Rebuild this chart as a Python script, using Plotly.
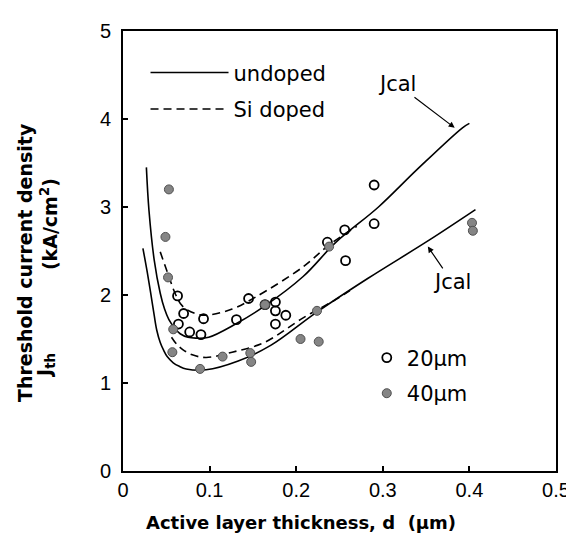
import plotly.graph_objects as go

# ---- data ----
undoped20_d = [0.027, 0.030, 0.036, 0.043, 0.048, 0.053, 0.060, 0.066, 0.075, 0.084, 0.099, 0.130, 0.163, 0.208, 0.246, 0.295, 0.340, 0.392, 0.400]
undoped20_J = [3.45, 2.96, 2.40, 2.02, 1.84, 1.72, 1.62, 1.56, 1.52, 1.51, 1.52, 1.67, 1.87, 2.21, 2.60, 3.00, 3.43, 3.90, 3.95]

sidoped20_d = [0.043, 0.053, 0.061, 0.069, 0.083, 0.096, 0.126, 0.152, 0.208, 0.238, 0.270]
sidoped20_J = [2.49, 2.21, 2.00, 1.87, 1.79, 1.77, 1.84, 1.97, 2.32, 2.57, 2.78]

undoped40_d = [0.023, 0.028, 0.032, 0.036, 0.039, 0.043, 0.047, 0.051, 0.058, 0.065, 0.073, 0.096, 0.133, 0.171, 0.223, 0.283, 0.353, 0.407]
undoped40_J = [2.53, 2.26, 2.02, 1.77, 1.60, 1.46, 1.37, 1.30, 1.23, 1.19, 1.16, 1.15, 1.25, 1.43, 1.80, 2.19, 2.62, 2.97]

sidoped40_d = [0.056, 0.062, 0.069, 0.080, 0.096, 0.126, 0.163, 0.208, 0.246, 0.262]
sidoped40_J = [1.52, 1.44, 1.38, 1.32, 1.29, 1.35, 1.46, 1.74, 1.95, 2.05]

open20_d = [0.063, 0.070, 0.064, 0.077, 0.090, 0.093, 0.131, 0.145, 0.164, 0.176, 0.176, 0.188, 0.176, 0.236, 0.256, 0.257, 0.290, 0.290]
open20_J = [1.99, 1.79, 1.67, 1.58, 1.55, 1.73, 1.72, 1.96, 1.89, 1.92, 1.82, 1.77, 1.67, 2.60, 2.74, 2.39, 3.25, 2.81]

filled40_d = [0.053, 0.049, 0.052, 0.058, 0.057, 0.089, 0.115, 0.147, 0.148, 0.164, 0.205, 0.226, 0.224, 0.238, 0.403, 0.404]
filled40_J = [3.20, 2.66, 2.20, 1.61, 1.35, 1.16, 1.30, 1.34, 1.24, 1.89, 1.50, 1.47, 1.82, 2.55, 2.82, 2.73]

x_ticks = [0, 0.1, 0.2, 0.3, 0.4, 0.5]
y_ticks = [0, 1, 2, 3, 4, 5]

FONT = "Liberation Sans"
LFONT = "DejaVu Sans"
BOLD = "DejaVu Sans"

fig = go.Figure()

line_style = dict(color="black", width=1.6, shape="spline", smoothing=1.0)

fig.add_trace(go.Scatter(x=undoped20_d, y=undoped20_J, mode="lines", name="undoped",
                         line=line_style, legend="legend"))
fig.add_trace(go.Scatter(x=undoped40_d, y=undoped40_J, mode="lines", name="undoped",
                         line=line_style, showlegend=False))
fig.add_trace(go.Scatter(x=sidoped20_d, y=sidoped20_J, mode="lines", name="Si doped",
                         line=dict(line_style, dash="8px,5px"), legend="legend2"))
fig.add_trace(go.Scatter(x=sidoped40_d, y=sidoped40_J, mode="lines", name="Si doped",
                         line=dict(line_style, dash="8px,5px"), showlegend=False))

fig.add_trace(go.Scatter(x=open20_d, y=open20_J, mode="markers", name="20\u03bcm",
                         marker=dict(symbol="circle-open", size=9, color="black",
                                     line=dict(width=1.8, color="black")),
                         legend="legend3"))
fig.add_trace(go.Scatter(x=filled40_d, y=filled40_J, mode="markers", name="40\u03bcm",
                         marker=dict(symbol="circle", size=9, color="#858585",
                                     line=dict(width=1, color="#505050")),
                         legend="legend4"))

leg_common = dict(font=dict(family=LFONT, size=21, color="black"),
                  bgcolor="rgba(0,0,0,0)", borderwidth=0,
                  xanchor="left", yanchor="middle")

fig.update_layout(
    width=574, height=535,
    margin=dict(l=115, r=15, t=19, b=72),
    paper_bgcolor="white", plot_bgcolor="white",
    legend=dict(leg_common, x=0.052, y=0.905, itemwidth=78),
    legend2=dict(leg_common, x=0.052, y=0.822, itemwidth=78),
    legend3=dict(leg_common, x=0.563, y=0.257),
    legend4=dict(leg_common, x=0.563, y=0.176),
    xaxis=dict(range=[0, 0.5], tickvals=x_ticks, ticktext=[("%g" % v) for v in x_ticks],
               showgrid=False, zeroline=False,
               showline=True, linecolor="black", linewidth=2, mirror=True,
               ticks="inside", ticklen=5, tickwidth=1.5, tickcolor="black",
               tickfont=dict(family=FONT, size=20, color="black")),
    yaxis=dict(range=[0, 5], tickvals=y_ticks,
               showgrid=False, zeroline=False,
               showline=True, linecolor="black", linewidth=2, mirror=True,
               ticks="inside", ticklen=5, tickwidth=1.5, tickcolor="black",
               ticklabelstandoff=6,
               tickfont=dict(family=FONT, size=20, color="black")),
)

ann_font = dict(family=LFONT, size=21, color="black")
fig.add_annotation(x=0.383, y=3.90, ax=0.316, ay=4.40, axref="x", ayref="y",
                   text="Jcal", showarrow=True, arrowhead=2, arrowsize=1,
                   arrowwidth=1.2, arrowcolor="black", font=ann_font)
fig.add_annotation(x=0.352, y=2.55, ax=0.380, ay=2.15, axref="x", ayref="y",
                   text="Jcal", showarrow=True, arrowhead=2, arrowsize=1,
                   arrowwidth=1.2, arrowcolor="black", font=ann_font)

title_font = dict(family=BOLD, size=18, color="black")
fig.add_annotation(xref="paper", yref="paper", x=0.41, y=-0.118,
                   xanchor="center", yanchor="middle",
                   text="<b>Active layer thickness, d  (\u03bcm)</b>",
                   showarrow=False, font=title_font)
yt_font = dict(family=BOLD, size=19, color="black")
fig.add_annotation(xref="paper", yref="paper", x=-0.226, y=0.473, textangle=-90,
                   xanchor="center", yanchor="middle",
                   text="<b>Threshold current density</b>", showarrow=False, font=yt_font)
fig.add_annotation(xref="paper", yref="paper", x=-0.172, y=0.56, textangle=-90,
                   xanchor="center", yanchor="middle",
                   text="<b>(kA/cm<sup>2</sup>)</b>", showarrow=False, font=yt_font)
fig.add_annotation(xref="paper", yref="paper", x=-0.178, y=0.241, textangle=-90,
                   xanchor="center", yanchor="middle",
                   text="<b>J<sub>th</sub></b>", showarrow=False, font=yt_font)

fig.write_html("out.html")
